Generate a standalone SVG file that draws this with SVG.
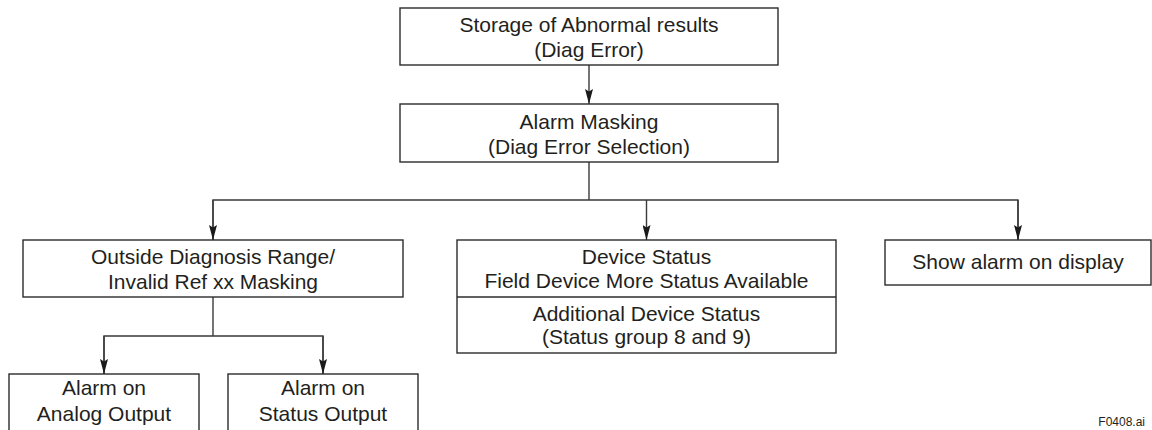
<svg xmlns="http://www.w3.org/2000/svg" width="1152" height="430" viewBox="0 0 1152 430">
  <style>
    .box { fill: #ffffff; stroke: #2b2b2b; stroke-width: 1.4; }
    .con { fill: none; stroke: #3a3a3a; stroke-width: 1.4; }
    .t { font-family: "Liberation Sans", Arial, sans-serif; font-size: 21px; fill: #231f20; text-anchor: middle; }
    .fig { font-family: "Liberation Sans", Arial, sans-serif; font-size: 12px; fill: #231f20; text-anchor: end; }
  </style>
  <defs>
    <marker id="arr" viewBox="0 0 15 8" refX="15" refY="4" markerWidth="15" markerHeight="8" markerUnits="userSpaceOnUse" orient="auto">
      <path d="M0,0 L15,4 L0,8 L2.5,4 z" fill="#1a1a1a"/>
    </marker>
  </defs>
  <rect width="1152" height="430" fill="#ffffff"/>

  <g id="connectors">
    <line class="con" x1="589" y1="65" x2="589" y2="104" marker-end="url(#arr)"/>
    <polyline class="con" points="589,162 589,200"/>
    <polyline class="con" points="213,240 213,200 1018,200 1018,240"/>
    <line class="con" x1="213" y1="200" x2="213" y2="240" marker-end="url(#arr)"/>
    <line class="con" x1="646.5" y1="200" x2="646.5" y2="240" marker-end="url(#arr)"/>
    <line class="con" x1="1018" y1="200" x2="1018" y2="240" marker-end="url(#arr)"/>
    <polyline class="con" points="213,297 213,336"/>
    <polyline class="con" points="104,374 104,336 323,336 323,374"/>
    <line class="con" x1="104" y1="336" x2="104" y2="374" marker-end="url(#arr)"/>
    <line class="con" x1="323" y1="336" x2="323" y2="374" marker-end="url(#arr)"/>
  </g>

  <g id="storage">
    <rect class="box" x="400" y="8" width="378" height="57"/>
    <text class="t" x="589" y="32">Storage of Abnormal results</text>
    <text class="t" x="589" y="57">(Diag Error)</text>
  </g>

  <g id="masking">
    <rect class="box" x="400" y="104" width="378" height="58"/>
    <text class="t" x="589" y="129">Alarm Masking</text>
    <text class="t" x="589" y="154">(Diag Error Selection)</text>
  </g>

  <g id="outside">
    <rect class="box" x="23" y="240" width="380" height="57"/>
    <text class="t" x="213" y="264">Outside Diagnosis Range/</text>
    <text class="t" x="213" y="289">Invalid Ref xx Masking</text>
  </g>

  <g id="device">
    <rect class="box" x="457" y="240" width="379" height="113"/>
    <line class="box" x1="457" y1="297" x2="836" y2="297"/>
    <text class="t" x="646.5" y="264">Device Status</text>
    <text class="t" x="646.5" y="288">Field Device More Status Available</text>
    <text class="t" x="646.5" y="321">Additional Device Status</text>
    <text class="t" x="646.5" y="344">(Status group 8 and 9)</text>
  </g>

  <g id="display">
    <rect class="box" x="885" y="240" width="266" height="45"/>
    <text class="t" x="1018" y="269">Show alarm on display</text>
  </g>

  <g id="analog">
    <rect class="box" x="9" y="374" width="190" height="70"/>
    <text class="t" x="104" y="395">Alarm on</text>
    <text class="t" x="104" y="421">Analog Output</text>
  </g>

  <g id="status">
    <rect class="box" x="228" y="374" width="190" height="70"/>
    <text class="t" x="323" y="395">Alarm on</text>
    <text class="t" x="323" y="421">Status Output</text>
  </g>

  <text class="fig" x="1145" y="426">F0408.ai</text>
</svg>
